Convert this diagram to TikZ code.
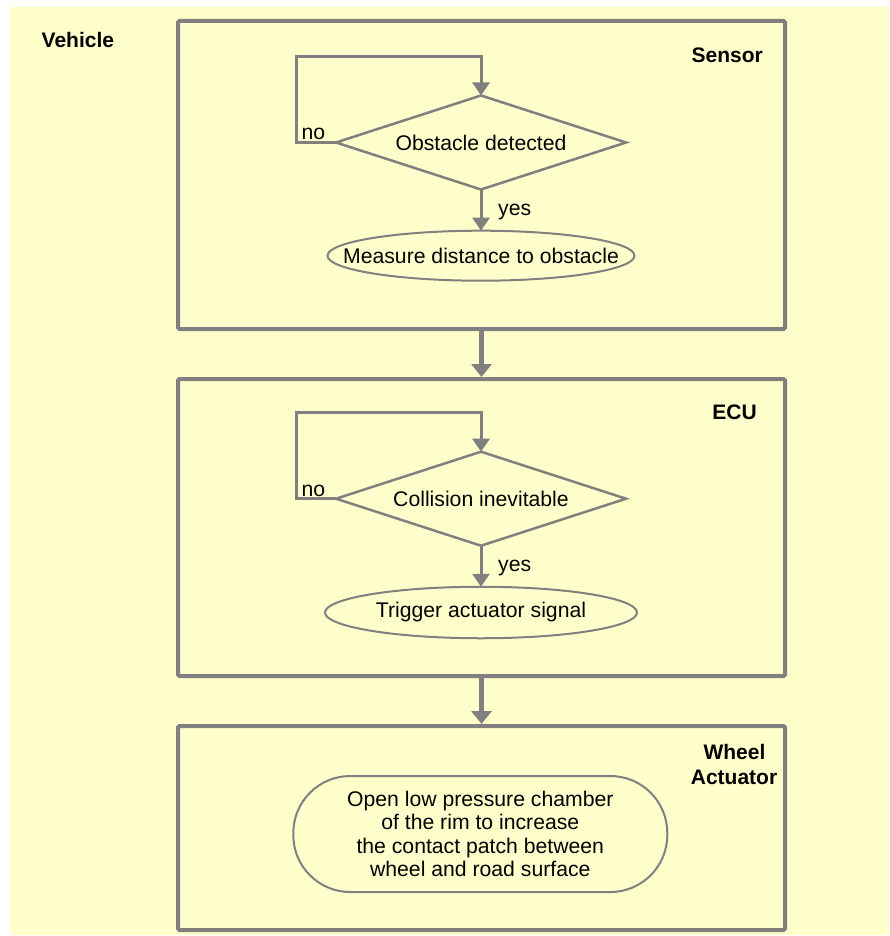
\documentclass[tikz,border=0pt]{standalone}
\usepackage{fontspec}
\setmainfont{Liberation Sans}
\usetikzlibrary{shapes.geometric,arrows.meta}
\definecolor{paper}{HTML}{FFFFCC}
\definecolor{edge}{HTML}{808080}
\tikzset{
  lane/.style={draw=edge, line width=4pt, rounded corners=1.5pt, outer sep=0pt, inner sep=0pt},
  decision/.style={diamond, draw=edge, line width=2.5pt, aspect=3.1, minimum width=290pt,
    minimum height=94pt, inner sep=0pt, outer sep=0pt},
  process/.style={ellipse, draw=edge, line width=2pt, inner sep=0pt, outer sep=0pt},
  action/.style={draw=edge, line width=2pt, rounded corners=57pt, minimum width=374pt,
    minimum height=116pt, align=center, inner sep=0pt, outer sep=0pt},
  flow/.style={draw=edge, line width=3pt, -{Triangle[width=17pt,length=13pt]}},
  handoff/.style={draw=edge, line width=5pt, -{Triangle[width=20pt,length=13pt]}},
  title/.style={font=\bfseries\fontsize{21}{25}\selectfont, inner sep=0pt},
  note/.style={inner sep=0pt, anchor=base west},
}
\begin{document}
\begin{tikzpicture}[x=1pt, y=-1pt, font=\fontsize{21.2}{23.5}\selectfont]
  % page and background
  \useasboundingbox (0,0) rectangle (889,936);
  \fill[paper] (10,7) rectangle (889,935);

  % lanes
  \node[lane, minimum width=607pt, minimum height=308pt] (sensor) at (481.5,175) {};
  \node[lane, minimum width=607pt, minimum height=297pt] (ecu)    at (481.5,527.5) {};
  \node[lane, minimum width=607pt, minimum height=204pt] (wheel)  at (481.5,828) {};

  % lane titles
  \node[title, anchor=base west] (vehicle) at (41.5,48) {Vehicle};
  \node[title, anchor=base east] (sensorT) at (763,63) {Sensor};
  \node[title, anchor=base east] (ecuT)    at (757,419) {ECU};
  \node[title, anchor=base]      (wheelT1) at (734.5,759) {Wheel};
  \node[title, anchor=base]      (wheelT2) at (734,784) {Actuator};

  % sensor lane
  \node[decision] (d1) at (481,142.5) {\makebox[0pt]{Obstacle detected}};
  \node[process, minimum width=307pt, minimum height=50pt] (m1) at (481,255.7)
    {\makebox[0pt]{Measure distance to obstacle}};
  \coordinate (c1) at (296,57);
  \draw[flow] (d1.west) -| (c1) -| (d1.north);
  \draw[flow] (d1.south) -- (m1.north);
  \node[note] (no1)  at (301.5,140) {no};
  \node[note] (yes1) at (498,215) {yes};

  % ECU lane
  \node[decision] (d2) at (481,498.7) {\makebox[0pt]{Collision inevitable}};
  \node[process, minimum width=312pt, minimum height=51.5pt] (m2) at (481,612.5)
    {\makebox[0pt]{Trigger actuator signal}};
  \coordinate (c2) at (296,412.7);
  \draw[flow] (d2.west) -| (c2) -| (d2.north);
  \draw[flow] (d2.south) -- (m2.north);
  \node[note] (no2)  at (301.5,496.5) {no};
  \node[note] (yes2) at (498,571) {yes};

  % actuator lane
  \node[action] (act) at (480.3,834)
    {Open low pressure chamber\\of the rim to increase\\the contact patch between\\wheel and road surface};

  % hand-offs between lanes
  \draw[handoff] (sensor.south) -- ([yshift=2pt]ecu.north);
  \draw[handoff] (ecu.south) -- ([yshift=2pt]wheel.north);
\end{tikzpicture}
\end{document}
